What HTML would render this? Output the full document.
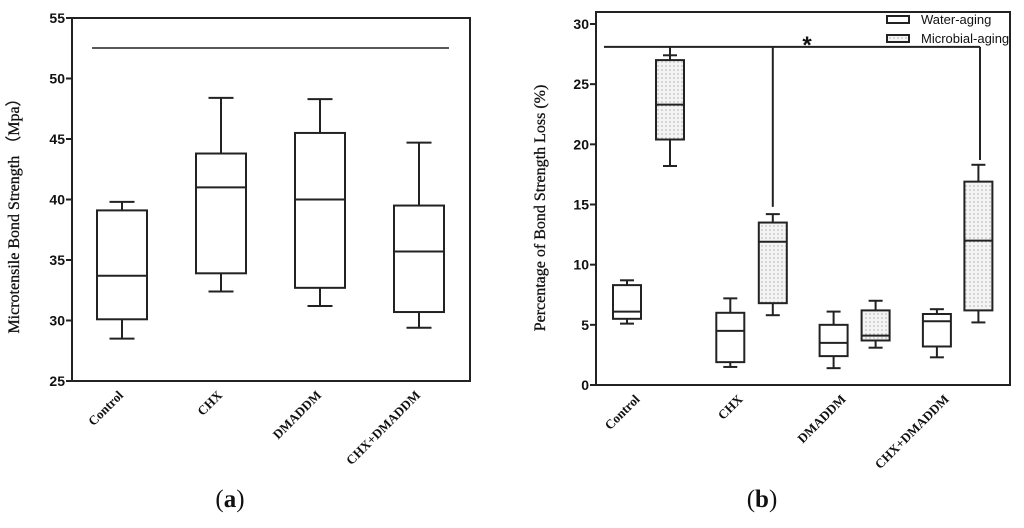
<!DOCTYPE html>
<html><head><meta charset="utf-8"><style>
body{margin:0;background:#fff;}
svg{display:block;}
.t{font-family:"Liberation Sans",Arial,sans-serif;font-weight:bold;fill:#111;}
.s{font-family:"Liberation Serif",serif;fill:#111;}
</style></head><body>
<svg id="c" width="1024" height="528" xmlns="http://www.w3.org/2000/svg">
<defs><pattern id="dots" width="4" height="4" patternUnits="userSpaceOnUse"><rect width="4" height="4" fill="#f4f4f4"/><circle cx="2" cy="2" r="0.6" fill="#888"/></pattern></defs>
</svg>
<script>
const catsA=["Control","CHX","DMADDM","CHX+DMADDM"];
const minA=[28.5,32.4,31.2,29.4];
const q1A=[30.1,33.9,32.7,30.7];
const medA=[33.7,41.0,40.0,35.7];
const q3A=[39.1,43.8,45.5,39.5];
const maxA=[39.8,48.4,48.3,44.7];
const ticksA=[25,30,35,40,45,50,55];
const catsB=["Control","CHX","DMADDM","CHX+DMADDM"];
const wMin=[5.1,1.5,1.4,2.3],wQ1=[5.5,1.9,2.4,3.2],wMed=[6.1,4.5,3.5,5.3],wQ3=[8.3,6.0,5.0,5.9],wMax=[8.7,7.2,6.1,6.3];
const mMin=[18.2,5.8,3.1,5.2],mQ1=[20.4,6.8,3.7,6.2],mMed=[23.3,11.9,4.1,12.0],mQ3=[27.0,13.5,6.2,16.9],mMax=[27.4,14.2,7.0,18.3];
const ticksB=[0,5,10,15,20,25,30];
const sigY=28.1, sigDrops=[27.4,14.8,18.7];

const svg=document.getElementById('c');const NS='http://www.w3.org/2000/svg';
function el(t,a,txt){const e=document.createElementNS(NS,t);for(const k in a)e.setAttribute(k,a[k]);if(txt!==undefined)e.textContent=txt;svg.appendChild(e);return e;}
const yA=v=>381-(v-25)*(363/30);
const xA=i=>122+i*99;
const yB=v=>385-v*(361/30);
const xBw=i=>627+i*103.3, xBm=i=>670+i*102.8;

let f=el('rect',{x:72,y:18,width:398,height:363,fill:'none',stroke:'#222','stroke-width':2});

ticksA.forEach(v=>{let l=el('line',{x1:66,x2:72,y1:yA(v),y2:yA(v),stroke:'#222','stroke-width':2});

let t=el('text',{x:65,y:yA(v)+5,'text-anchor':'end',class:'t',style:'font-size:14px'},v);
});
let yt=el('text',{class:'s',style:'font-size:16px;stroke:#111;stroke-width:0.3',transform:'translate(19,212) rotate(-90)','text-anchor':'middle'},'Microtensile Bond Strength （Mpa）');

let sl=el('line',{x1:92,x2:449,y1:48,y2:48,stroke:'#222','stroke-width':1.5});


function box(x,hw,mn,q1,md,q3,mx,y,fill,name){
 const g=document.createElementNS(NS,'g');svg.appendChild(g);
 
 
 const a=(t,o)=>{const e=document.createElementNS(NS,t);for(const k in o)e.setAttribute(k,o[k]);g.appendChild(e);};
 const st={stroke:'#222','stroke-width':2};
 a('line',Object.assign({x1:x,x2:x,y1:y(mx),y2:y(q3)},st));
 a('line',Object.assign({x1:x,x2:x,y1:y(q1),y2:y(mn)},st));
 a('line',Object.assign({x1:x-hw/2,x2:x+hw/2,y1:y(mx),y2:y(mx)},st));
 a('line',Object.assign({x1:x-hw/2,x2:x+hw/2,y1:y(mn),y2:y(mn)},st));
 a('rect',Object.assign({x:x-hw,y:y(q3),width:2*hw,height:y(q1)-y(q3),fill:fill},st));
 a('line',Object.assign({x1:x-hw,x2:x+hw,y1:y(md),y2:y(md)},st));
}
catsA.forEach((c,i)=>{box(xA(i),25,minA[i],q1A[i],medA[i],q3A[i],maxA[i],yA,'none','box-a-'+i);
 let t=el('text',{class:'s',style:'font-size:13px;font-weight:bold','text-anchor':'end',transform:`translate(${xA(i)+2},${396}) rotate(-45)`},c);
 });
let ca=el('text',{x:230,y:507,class:'s',style:'font-size:25px','text-anchor':'middle'});ca.innerHTML='(<tspan font-weight="bold">a</tspan>)';


let f2=el('rect',{x:596,y:12,width:414,height:373,fill:'none',stroke:'#222','stroke-width':2});

ticksB.forEach(v=>{let l=el('line',{x1:590,x2:596,y1:yB(v),y2:yB(v),stroke:'#222','stroke-width':2});

let t=el('text',{x:589,y:yB(v)+5,'text-anchor':'end',class:'t',style:'font-size:14px'},v);
});
let yt2=el('text',{class:'s',style:'font-size:16px;stroke:#111;stroke-width:0.3',transform:'translate(545,208) rotate(-90)','text-anchor':'middle'},'Percentage of Bond Strength Loss (%)');

let sg=el('path',{d:`M604 ${yB(sigY)} H980 M${xBm(0)} ${yB(sigY)} V${yB(sigDrops[0])} M${xBm(1)} ${yB(sigY)} V${yB(sigDrops[1])} M980 ${yB(sigY)} V${yB(sigDrops[2])}`,fill:'none',stroke:'#222','stroke-width':2});

let star=el('text',{x:807,y:53,'text-anchor':'middle',class:'t',style:'font-size:24px'},'*');

catsB.forEach((c,i)=>{
 box(xBw(i),14,wMin[i],wQ1[i],wMed[i],wQ3[i],wMax[i],yB,'none','box-water-'+i);
 box(xBm(i),14,mMin[i],mQ1[i],mMed[i],mQ3[i],mMax[i],yB,'url(#dots)','box-microbial-'+i);
 let t=el('text',{class:'s',style:'font-size:13px;font-weight:bold','text-anchor':'end',transform:`translate(${(xBw(i)+xBm(i))/2-8},${400}) rotate(-45)`},c);
 });
let lr1=el('rect',{x:887,y:16,width:22,height:7,fill:'none',stroke:'#222','stroke-width':2});

let lt1=el('text',{x:921,y:24,class:'t',style:'font-size:13px;font-weight:normal'},'Water-aging');

let lr2=el('rect',{x:887,y:35,width:22,height:7,fill:'url(#dots)',stroke:'#222','stroke-width':2});

let lt2=el('text',{x:921,y:43,class:'t',style:'font-size:13px;font-weight:normal'},'Microbial-aging');

let cb=el('text',{x:762,y:507,class:'s',style:'font-size:25px','text-anchor':'middle'});cb.innerHTML='(<tspan font-weight="bold">b</tspan>)';

</script>
</body></html>
